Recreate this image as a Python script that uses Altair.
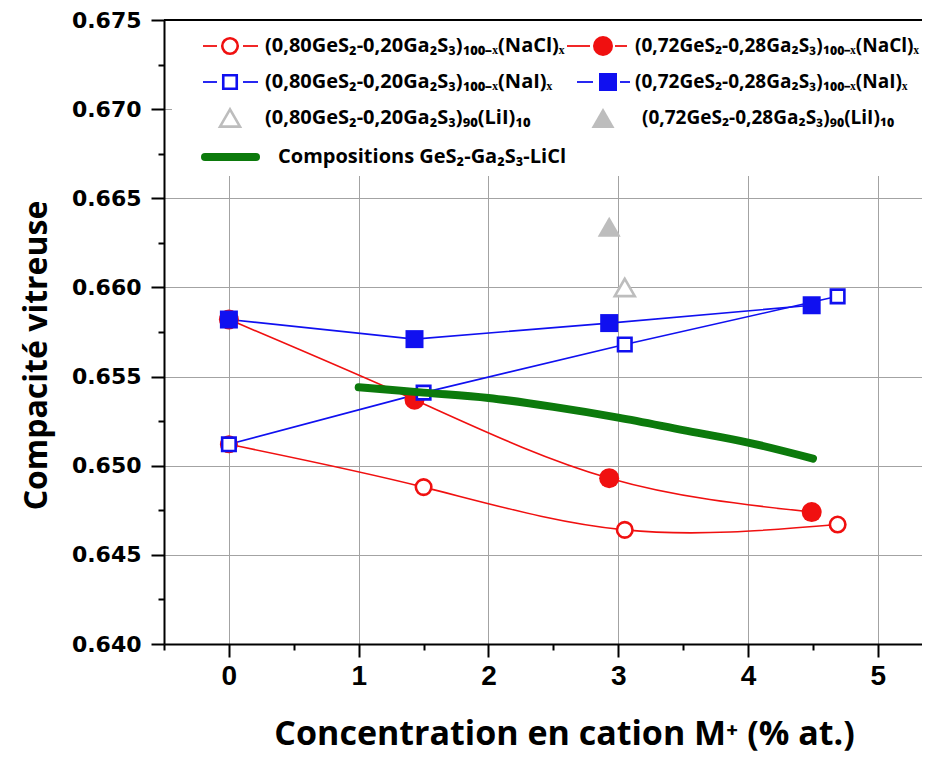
import altair as alt
import pandas as pd

# ---------------- data ----------------
x_major = [0, 1, 2, 3, 4, 5]
x_ticks = [-0.5, 0, 0.5, 1, 1.5, 2, 2.5, 3, 3.5, 4, 4.5, 5]
y_major = [0.640, 0.645, 0.650, 0.655, 0.660, 0.665, 0.670, 0.675]
y_ticks = [0.640, 0.6425, 0.645, 0.6475, 0.650, 0.6525, 0.655, 0.6575,
           0.660, 0.6625, 0.665, 0.6675, 0.670, 0.6725, 0.675]

# (0,80GeS2-0,20Ga2S3)100-x(NaCl)x  -- open red circles
nacl80_x = [0, 1.50, 3.05, 4.69]
nacl80_y = [0.6512, 0.6488, 0.6464, 0.6467]
# (0,72GeS2-0,28Ga2S3)100-x(NaCl)x  -- filled red circles
nacl72_x = [0, 1.43, 2.93, 4.49]
nacl72_y = [0.6582, 0.6537, 0.6493, 0.6474]
# (0,80GeS2-0,20Ga2S3)100-x(NaI)x   -- open blue squares
nai80_x = [0, 1.50, 3.05, 4.69]
nai80_y = [0.6512, 0.6541, 0.6568, 0.6595]
# (0,72GeS2-0,28Ga2S3)100-x(NaI)x   -- filled blue squares
nai72_x = [0, 1.43, 2.93, 4.49]
nai72_y = [0.6582, 0.6571, 0.6580, 0.6590]
# LiI compositions -- grey triangles
lii80_x = [3.05]
lii80_y = [0.6600]
lii72_x = [2.93]
lii72_y = [0.6634]
# Compositions GeS2-Ga2S3-LiCl -- green curve
licl_x = [1.0, 1.5, 2.0, 2.5, 3.0, 3.5, 4.0, 4.5]
licl_y = [0.6544, 0.6541, 0.6538, 0.6533, 0.6527, 0.6520, 0.6513, 0.6504]

legend_labels = [
    "(0,80GeS₂-0,20Ga₂S₃)₁₀₀₋ₓ(NaCl)ₓ",
    "(0,80GeS₂-0,20Ga₂S₃)₁₀₀₋ₓ(NaI)ₓ",
    "(0,80GeS₂-0,20Ga₂S₃)₉₀(LiI)₁₀",
    "Compositions GeS₂-Ga₂S₃-LiCl",
    "(0,72GeS₂-0,28Ga₂S₃)₁₀₀₋ₓ(NaCl)ₓ",
    "(0,72GeS₂-0,28Ga₂S₃)₁₀₀₋ₓ(NaI)ₓ",
    "(0,72GeS₂-0,28Ga₂S₃)₉₀(LiI)₁₀",
]

RED = "#f01010"
BLUE = "#1010f0"
GREY = "#bdbdbd"
GREEN = "#0c7a0c"

W, H = 758, 624

# ---------------- scales / axes ----------------
xscale = alt.Scale(domain=[-0.5, 5.34], nice=False, zero=False)
yscale = alt.Scale(domain=[0.640, 0.675], nice=False, zero=False)

x_minor = "datum.value % 1 !== 0"
y_minor = "round(datum.value * 10000) % 50 !== 0"

xaxis = alt.Axis(
    values=x_ticks,
    labelExpr="datum.value % 1 === 0 ? format(datum.value, 'd') : ''",
    labelFont="Liberation Sans Narrow, Liberation Sans",
    labelFontSize=28, labelFontWeight="bold", labelColor="black",
    labelPadding=5, labelFlush=False, labelOverlap=False,
    tickSize={"condition": {"test": x_minor, "value": 6}, "value": 13},
    tickColor="black", tickWidth=2,
    domainColor="black", domainWidth=2,
    grid=True, gridColor="#a3a3a3", gridWidth=1,
    gridOpacity={"condition": {"test": x_minor, "value": 0}, "value": 1},
    title="Concentration en cation M⁺ (% at.)",
    titleFont="Open Sans", titleFontSize=34, titleFontWeight="bold", titleColor="black",
    titleX=400, titleY=100, titleAlign="center", titleBaseline="alphabetic",
)
yaxis = alt.Axis(
    values=y_ticks,
    labelExpr="round(datum.value * 10000) % 50 === 0 ? format(datum.value, '.3f') : ''",
    labelFont="DejaVu Sans", labelFontSize=22, labelFontWeight="bold",
    labelColor="black", labelPadding=10, labelFlush=False, labelOverlap=False,
    tickSize={"condition": {"test": y_minor, "value": 6}, "value": 13},
    tickColor="black", tickWidth=2,
    domainColor="black", domainWidth=2,
    grid=True, gridColor="#a3a3a3", gridWidth=1,
    gridOpacity={"condition": {"test": y_minor, "value": 0}, "value": 1},
    title="Compacité vitreuse",
    titleFont="Open Sans", titleFontSize=32, titleFontWeight="bold", titleColor="black",
    titleX=-118, titleY=335, titleAngle=270, titleAlign="center",
    titleBaseline="alphabetic",
)

X = alt.X("x:Q", scale=xscale, axis=xaxis)
Y = alt.Y("y:Q", scale=yscale, axis=yaxis)


def frame(xs, ys):
    return pd.DataFrame({"x": xs, "y": ys})


def line(xs, ys, color, interp, width=1.6):
    return alt.Chart(frame(xs, ys)).mark_line(
        color=color, strokeWidth=width, interpolate=interp
    ).encode(X, Y)


def points(xs, ys, color, shape, filled, size):
    return alt.Chart(frame(xs, ys)).mark_point(
        shape=shape, size=size, filled=True, opacity=1,
        fill=color if filled else "white", stroke=color,
        strokeWidth=0 if filled else 2.6,
    ).encode(X, Y)


one = pd.DataFrame({"a": [0]})

# white box behind the legend (covers the grid as in the original)
legend_box = alt.Chart(one).mark_rect(color="white").encode(
    x=alt.value(8), x2=alt.value(W), y=alt.value(1), y2=alt.value(156)
)
top_line = alt.Chart(one).mark_rule(color="black", strokeWidth=2).encode(
    x=alt.value(0), x2=alt.value(W), y=alt.value(0)
)

# legend layout (pixel positions inside the plot area)
leg_seg = pd.DataFrame({
    "x1": [39, 79, 39, 79, 403, 451, 413, 456],
    "x2": [53, 94, 53, 94, 426, 463, 429, 466],
    "py": [26, 26, 62, 62, 26, 26, 62, 62],
    "col": [RED, RED, BLUE, BLUE, RED, RED, BLUE, BLUE],
})
leg_lines = alt.Chart(leg_seg).mark_rule(strokeWidth=1.8).encode(
    x=alt.X("x1:Q", scale=None, axis=None),
    x2="x2:Q",
    y=alt.Y("py:Q", scale=None, axis=None),
    color=alt.Color("col:N", scale=None),
)
leg_green = alt.Chart(one).mark_rule(color=GREEN, strokeWidth=8, strokeCap="round").encode(
    x=alt.value(41), x2=alt.value(92), y=alt.value(137)
)
leg_sym = pd.DataFrame({
    "px": [66, 66, 66, 439, 444, 439],
    "py": [26, 62, 98, 26, 62, 98],
    "shape": ["circle", "square", "triangle-up", "circle", "square", "triangle-up"],
    "fill": ["white", "white", "white", RED, BLUE, GREY],
    "stroke": [RED, BLUE, GREY, RED, BLUE, GREY],
    "sw": [2.6, 2.6, 2.6, 0, 0, 0],
    "size": [240, 182, 400, 400, 324, 529],
})
leg_points = alt.Chart(leg_sym).mark_point(filled=True, opacity=1).encode(
    x=alt.X("px:Q", scale=None, axis=None),
    y=alt.Y("py:Q", scale=None, axis=None),
    shape=alt.Shape("shape:N", scale=None),
    fill=alt.Fill("fill:N", scale=None),
    stroke=alt.Stroke("stroke:N", scale=None),
    strokeWidth=alt.StrokeWidth("sw:Q", scale=None),
    size=alt.Size("size:Q", scale=None),
)
leg_txt = pd.DataFrame({
    "label": legend_labels,
    "px": [101, 101, 101, 114, 471, 471, 478],
    "py": [26, 62, 98, 137, 26, 62, 98],
    "fs": [20, 20, 20, 20, 19, 19, 19],
})
leg_text = alt.Chart(leg_txt).mark_text(
    align="left", baseline="middle", font="Open Sans",
    fontWeight="bold", color="black"
).encode(
    x=alt.X("px:Q", scale=None, axis=None),
    y=alt.Y("py:Q", scale=None, axis=None),
    size=alt.Size("fs:Q", scale=None),
    text="label:N",
)

layers = [
    legend_box,
    top_line,
    line(nacl80_x, nacl80_y, RED, "natural"),
    line(nacl72_x, nacl72_y, RED, "natural"),
    line(nai80_x, nai80_y, BLUE, "linear"),
    line(nai72_x, nai72_y, BLUE, "linear"),
    points(nacl80_x, nacl80_y, RED, "circle", False, 240),
    points(nacl72_x, nacl72_y, RED, "circle", True, 400),
    points(nai80_x, nai80_y, BLUE, "square", False, 182),
    points(nai72_x, nai72_y, BLUE, "square", True, 324),
    points(lii80_x, lii80_y, GREY, "triangle-up", False, 400),
    points(lii72_x, lii72_y, GREY, "triangle-up", True, 529),
    alt.Chart(frame(licl_x, licl_y)).mark_line(
        color=GREEN, strokeWidth=8, strokeCap="round", interpolate="monotone"
    ).encode(X, Y),
    leg_lines,
    leg_green,
    leg_points,
    leg_text,
]

chart = alt.layer(*layers).resolve_scale(x="shared", y="shared").properties(
    width=W, height=H,
    padding={"left": 156, "top": 12, "right": 0, "bottom": 111},
    autosize=alt.AutoSizeParams(type="none"),
    background="white",
).configure_view(stroke=None)

chart.save("out.html", embed_options={"renderer": "svg", "actions": False})
